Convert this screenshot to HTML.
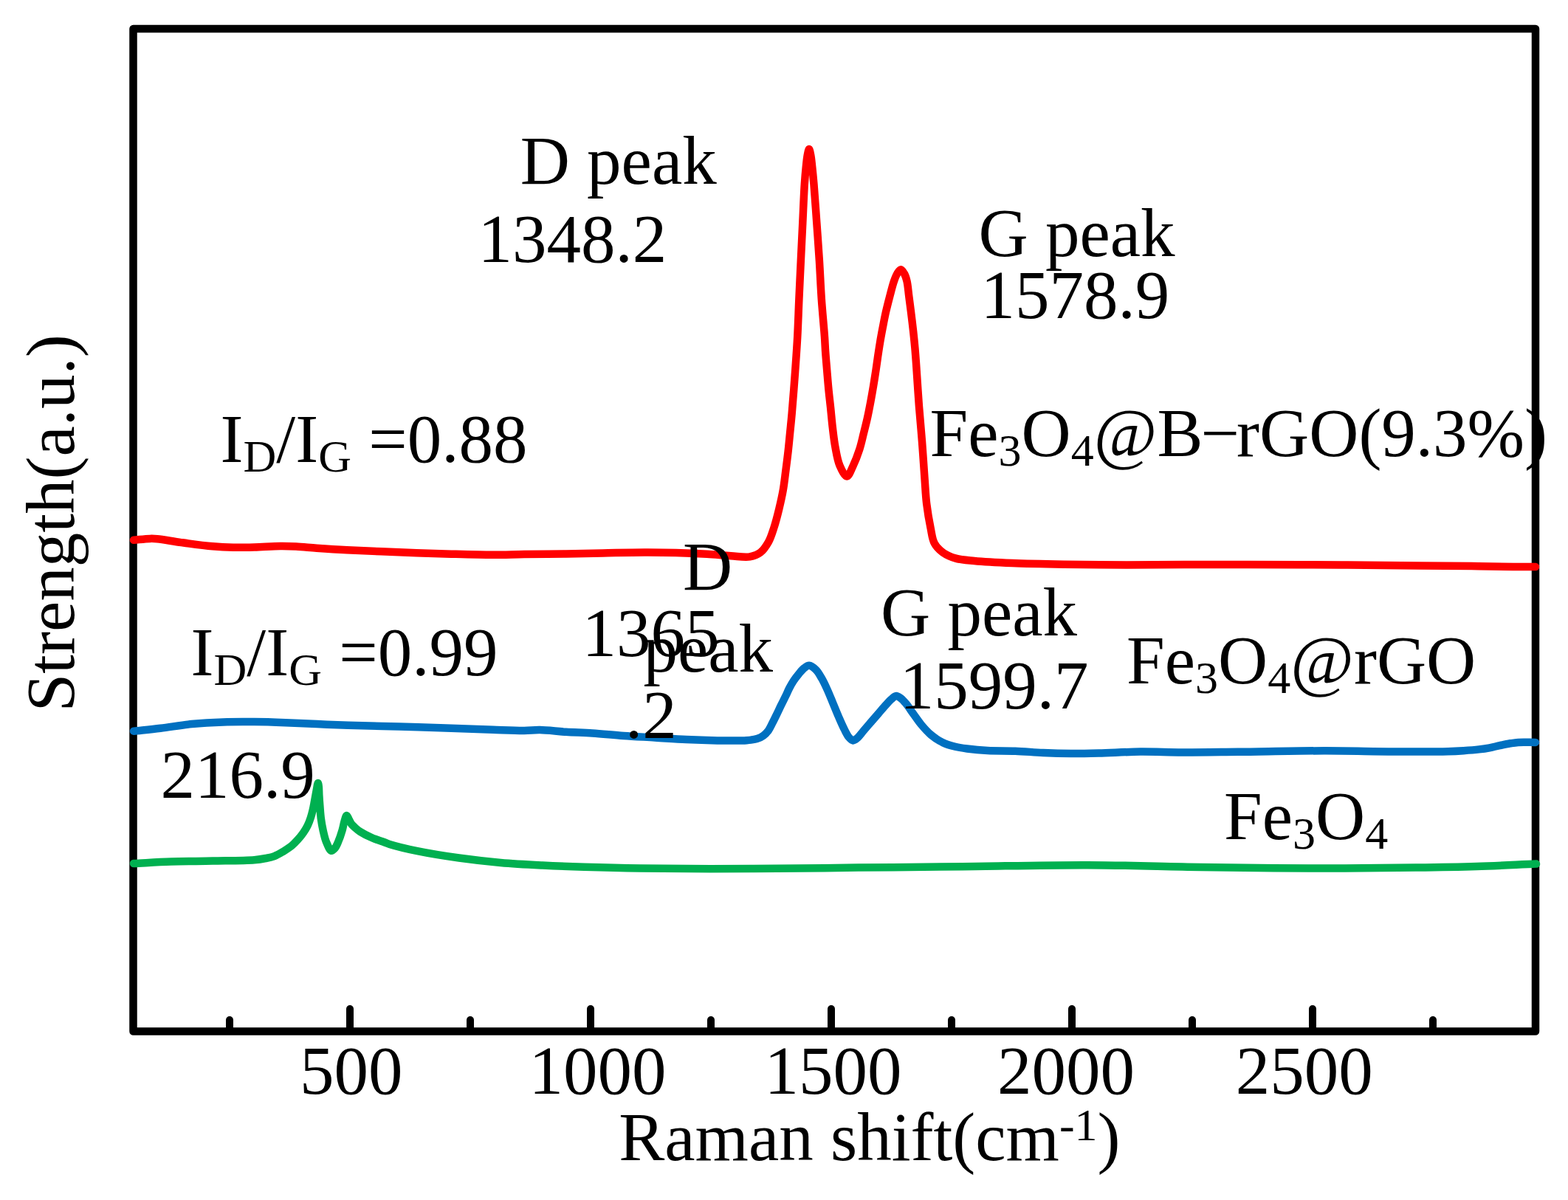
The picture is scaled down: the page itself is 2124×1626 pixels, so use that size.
<!DOCTYPE html>
<html><head><meta charset="utf-8"><title>Raman spectra</title>
<style>
html,body{margin:0;padding:0;background:#fff;}
body{width:2124px;height:1626px;overflow:hidden;}
svg{display:block;}
text{font-family:"Liberation Serif","Times New Roman",serif;fill:#000;}
</style></head>
<body>
<svg width="2124" height="1626" viewBox="0 0 2124 1626">
<rect width="2124" height="1626" fill="#fff"/>
<g stroke="#000" stroke-width="10" stroke-linecap="round">
<line x1="474" y1="1395" x2="474" y2="1367"/>
<line x1="800" y1="1395" x2="800" y2="1367"/>
<line x1="1126" y1="1395" x2="1126" y2="1367"/>
<line x1="1452" y1="1395" x2="1452" y2="1367"/>
<line x1="1778" y1="1395" x2="1778" y2="1367"/>
<line x1="311" y1="1395" x2="311" y2="1382"/>
<line x1="637" y1="1395" x2="637" y2="1382"/>
<line x1="963" y1="1395" x2="963" y2="1382"/>
<line x1="1289" y1="1395" x2="1289" y2="1382"/>
<line x1="1615" y1="1395" x2="1615" y2="1382"/>
<line x1="1941" y1="1395" x2="1941" y2="1382"/>
</g>
<rect x="180.5" y="39" width="1899.5" height="1358.5" fill="none" stroke="#000" stroke-width="10.5" stroke-linejoin="round"/>
<path d="M181.00,731.80 C188.33,731.17 197.09,730.07 203.00,729.90 C206.98,729.79 208.72,729.82 213.00,730.20 C220.76,730.90 234.01,733.52 245.60,735.10 C258.79,736.90 275.31,739.18 288.00,740.30 C298.28,741.20 306.62,741.60 316.00,741.80 C325.45,742.00 334.49,741.77 344.50,741.50 C355.64,741.20 369.52,740.10 379.80,740.00 C387.76,739.92 393.45,740.11 401.00,740.50 C409.69,740.94 418.78,741.97 429.00,742.70 C441.36,743.58 454.48,744.48 470.00,745.30 C490.35,746.38 517.06,747.40 540.60,748.30 C564.13,749.20 588.97,750.11 611.20,750.70 C631.08,751.23 650.23,751.80 667.70,751.80 C682.82,751.80 694.87,751.22 710.00,751.00 C727.49,750.74 748.33,750.68 766.60,750.40 C783.76,750.14 799.35,749.72 816.50,749.40 C834.75,749.06 855.52,748.45 873.00,748.40 C888.15,748.36 901.28,748.50 915.40,748.90 C929.51,749.30 944.55,750.02 957.70,750.80 C969.20,751.49 979.83,752.59 990.00,753.20 C999.08,753.75 1008.59,755.64 1015.80,754.40 C1021.36,753.44 1025.91,751.71 1030.00,748.60 C1034.42,745.24 1037.99,739.75 1041.00,734.40 C1044.23,728.65 1046.13,721.99 1048.40,715.00 C1050.98,707.07 1053.31,697.83 1055.40,689.20 C1057.47,680.63 1059.40,672.04 1060.90,663.40 C1062.39,654.80 1063.28,646.13 1064.40,637.50 C1065.52,628.89 1066.63,620.31 1067.60,611.70 C1068.57,603.08 1069.35,594.43 1070.20,585.80 C1071.05,577.19 1071.81,570.21 1072.70,560.00 C1074.00,545.10 1075.72,522.74 1077.00,505.00 C1078.20,488.38 1079.31,473.08 1080.20,456.70 C1081.12,439.77 1081.63,422.22 1082.40,405.00 C1083.17,387.79 1083.98,370.61 1084.80,353.40 C1085.62,336.17 1086.47,318.93 1087.30,301.70 C1088.13,284.47 1088.88,263.96 1089.80,250.00 C1090.43,240.48 1091.05,233.18 1091.80,226.00 C1092.41,220.12 1092.93,214.39 1093.80,210.00 C1094.43,206.85 1095.27,202.00 1096.00,202.00 C1096.73,202.00 1097.57,206.85 1098.20,210.00 C1099.07,214.39 1099.55,220.12 1100.20,226.00 C1100.99,233.19 1101.69,240.48 1102.50,250.00 C1103.68,263.96 1105.07,284.47 1106.30,301.70 C1107.53,318.93 1108.82,336.17 1109.90,353.40 C1110.98,370.60 1111.62,387.80 1112.80,405.00 C1113.98,422.23 1116.10,443.67 1117.00,456.70 C1117.55,464.62 1117.63,468.95 1118.10,475.80 C1118.65,483.78 1119.48,493.08 1120.20,501.70 C1120.92,510.31 1121.57,518.90 1122.40,527.50 C1123.23,536.13 1124.30,544.77 1125.20,553.40 C1126.10,562.01 1126.78,570.61 1127.80,579.20 C1128.82,587.81 1129.70,596.43 1131.30,605.00 C1132.92,613.67 1134.37,623.72 1137.50,630.90 C1140.04,636.72 1144.13,645.59 1147.20,645.50 C1150.23,645.41 1153.14,636.21 1155.80,630.70 C1158.88,624.31 1161.85,616.45 1164.20,609.20 C1166.51,602.08 1168.00,594.80 1169.80,587.60 C1171.60,580.43 1173.41,573.28 1175.00,566.10 C1176.58,558.95 1177.95,551.78 1179.30,544.60 C1180.65,537.42 1181.90,530.20 1183.10,523.00 C1184.30,515.83 1185.50,508.15 1186.50,501.50 C1187.37,495.75 1187.95,491.11 1188.80,485.40 C1189.76,478.88 1190.83,471.46 1192.00,464.50 C1193.17,457.53 1194.47,450.56 1195.80,443.60 C1197.13,436.63 1198.44,429.65 1200.00,422.70 C1201.57,415.72 1203.37,408.75 1205.20,401.80 C1207.04,394.82 1208.98,386.61 1211.00,380.90 C1212.46,376.78 1213.71,373.26 1215.50,370.50 C1216.92,368.32 1218.74,365.27 1220.30,365.30 C1221.84,365.32 1223.53,368.32 1224.80,370.50 C1226.41,373.26 1227.50,376.77 1228.50,380.90 C1229.88,386.60 1230.38,394.83 1231.30,401.80 C1232.22,408.77 1233.08,415.29 1234.00,422.70 C1235.04,431.10 1236.27,441.07 1237.20,449.60 C1238.04,457.32 1238.75,464.33 1239.40,471.70 C1240.05,479.06 1240.44,484.75 1241.10,493.80 C1242.14,508.20 1243.52,531.68 1244.90,549.80 C1246.20,566.92 1247.82,583.07 1249.10,599.70 C1250.38,616.30 1251.49,634.58 1252.60,649.50 C1253.51,661.69 1253.86,671.65 1255.20,682.70 C1256.55,693.82 1258.70,706.36 1260.70,716.00 C1262.26,723.52 1262.63,730.26 1265.70,735.90 C1268.59,741.21 1273.26,745.75 1278.10,749.20 C1282.95,752.66 1288.54,754.82 1294.80,756.60 C1302.14,758.68 1309.89,759.04 1319.70,760.00 C1333.76,761.38 1352.67,762.32 1371.20,763.10 C1392.90,764.01 1417.27,764.40 1441.90,764.80 C1468.86,765.24 1498.94,765.46 1526.60,765.50 C1553.16,765.54 1578.13,765.18 1604.70,765.10 C1632.39,765.01 1658.38,764.96 1689.50,765.00 C1727.60,765.05 1776.12,765.25 1816.60,765.50 C1853.64,765.73 1891.16,766.11 1923.00,766.40 C1948.94,766.64 1971.39,766.79 1993.60,767.10 C2013.45,767.37 2034.14,767.99 2050.00,768.10 C2061.56,768.18 2070.00,768.03 2080.00,768.00" fill="none" stroke="#FF0000" stroke-width="10.5" stroke-linecap="round" stroke-linejoin="round"/>
<path d="M181.00,990.70 C193.13,989.37 204.82,988.22 217.40,986.70 C230.98,985.06 245.57,982.48 259.70,981.10 C273.80,979.72 287.96,978.90 302.10,978.40 C316.23,977.90 330.37,977.97 344.50,978.10 C358.63,978.23 372.78,978.70 386.90,979.20 C401.01,979.70 415.09,980.50 429.20,981.10 C443.32,981.70 455.75,982.28 471.60,982.80 C491.81,983.47 517.47,983.95 540.60,984.60 C564.00,985.25 588.98,985.96 611.20,986.70 C631.08,987.37 650.21,988.23 667.70,988.80 C682.84,989.30 698.39,990.08 710.10,990.00 C718.38,989.94 723.34,988.97 731.30,989.10 C741.58,989.27 754.79,991.07 766.60,991.80 C778.49,992.54 789.98,992.69 802.40,993.50 C815.92,994.38 830.59,996.00 844.70,997.00 C858.82,998.00 872.97,998.65 887.10,999.50 C901.23,1000.35 915.36,1001.43 929.50,1002.10 C943.63,1002.77 960.73,1003.28 971.90,1003.50 C979.20,1003.64 983.73,1003.64 990.00,1003.60 C996.79,1003.55 1004.85,1003.73 1011.20,1003.20 C1016.42,1002.77 1021.37,1002.37 1025.40,1001.10 C1028.66,1000.07 1031.25,998.74 1033.80,996.90 C1036.44,995.00 1038.83,992.58 1040.90,989.80 C1043.16,986.76 1044.74,982.81 1046.60,979.20 C1048.51,975.51 1050.34,971.73 1052.20,967.90 C1054.11,963.97 1055.92,959.95 1057.90,955.90 C1059.95,951.69 1062.34,947.18 1064.30,943.10 C1066.07,939.41 1067.42,935.93 1069.20,932.50 C1070.96,929.10 1072.79,925.77 1074.90,922.60 C1077.02,919.41 1079.50,916.30 1081.90,913.40 C1084.20,910.62 1086.44,907.48 1089.00,905.50 C1091.22,903.78 1093.61,901.69 1096.10,901.80 C1099.03,901.92 1102.68,905.05 1105.40,907.70 C1108.45,910.67 1110.67,915.00 1113.10,919.20 C1115.81,923.88 1118.24,929.20 1120.70,934.60 C1123.35,940.42 1125.84,946.86 1128.40,953.00 C1130.97,959.16 1133.48,965.49 1136.10,971.50 C1138.62,977.28 1141.25,983.46 1143.80,988.40 C1145.88,992.43 1147.72,996.48 1150.00,999.10 C1151.71,1001.07 1153.62,1003.26 1155.50,1003.40 C1157.29,1003.53 1159.09,1001.86 1161.00,1000.30 C1163.82,997.99 1166.92,993.46 1170.00,989.90 C1173.25,986.14 1176.67,982.17 1180.00,978.30 C1183.33,974.43 1186.67,970.57 1190.00,966.70 C1193.33,962.83 1196.92,958.49 1200.00,955.10 C1202.50,952.35 1204.56,949.87 1207.00,947.80 C1209.24,945.90 1211.71,943.16 1214.00,943.00 C1216.04,942.86 1218.03,944.57 1220.00,946.00 C1222.42,947.75 1224.64,950.28 1227.10,953.20 C1230.34,957.04 1233.88,962.68 1237.30,967.40 C1240.72,972.12 1243.78,976.92 1247.60,981.50 C1251.63,986.33 1256.06,991.48 1261.00,995.60 C1265.93,999.71 1271.66,1003.51 1277.20,1006.20 C1282.34,1008.69 1287.58,1010.12 1293.00,1011.50 C1298.51,1012.90 1303.63,1013.64 1310.00,1014.50 C1318.09,1015.59 1327.75,1016.55 1337.70,1017.10 C1349.27,1017.73 1362.76,1017.22 1375.30,1017.70 C1387.86,1018.18 1400.43,1019.45 1413.00,1020.00 C1425.56,1020.55 1438.14,1020.92 1450.70,1021.00 C1463.24,1021.08 1474.50,1020.82 1488.30,1020.50 C1505.22,1020.10 1525.96,1018.77 1544.80,1018.60 C1563.63,1018.43 1581.12,1019.43 1601.30,1019.50 C1624.60,1019.58 1648.71,1019.11 1676.60,1018.80 C1711.45,1018.42 1757.18,1017.32 1794.20,1017.30 C1827.31,1017.28 1858.93,1018.27 1888.30,1018.40 C1914.15,1018.52 1944.18,1018.62 1961.20,1018.20 C1970.39,1017.97 1975.34,1017.67 1982.40,1017.20 C1989.47,1016.73 1997.26,1016.14 2003.60,1015.40 C2008.79,1014.79 2013.02,1014.18 2017.70,1013.30 C2022.42,1012.41 2027.09,1011.10 2031.80,1010.10 C2036.49,1009.10 2041.52,1008.02 2045.90,1007.30 C2049.67,1006.68 2052.26,1006.18 2056.50,1005.90 C2062.78,1005.49 2072.17,1005.90 2080.00,1005.90" fill="none" stroke="#0070C0" stroke-width="10.5" stroke-linecap="round" stroke-linejoin="round"/>
<path d="M181.00,1170.10 C197.83,1169.23 214.19,1168.08 231.50,1167.50 C249.80,1166.88 269.17,1166.98 288.00,1166.60 C306.83,1166.22 331.57,1166.27 344.50,1165.20 C351.30,1164.63 355.22,1163.93 360.00,1163.00 C364.20,1162.18 367.89,1161.56 371.70,1160.10 C375.70,1158.57 379.56,1156.20 383.40,1153.90 C387.36,1151.52 391.61,1148.88 395.10,1146.00 C398.36,1143.31 401.13,1140.29 403.80,1137.30 C406.35,1134.45 408.66,1131.60 410.80,1128.50 C412.97,1125.37 415.03,1122.02 416.70,1118.60 C418.35,1115.22 419.63,1111.64 420.80,1108.10 C421.96,1104.61 422.85,1101.14 423.70,1097.50 C424.59,1093.71 425.23,1089.86 426.00,1085.80 C426.83,1081.39 427.65,1076.33 428.50,1072.00 C429.26,1068.12 430.20,1061.00 430.80,1061.00 C431.21,1061.00 431.56,1064.00 431.80,1066.00 C432.16,1068.94 432.07,1072.99 432.30,1077.00 C432.58,1081.84 432.98,1087.67 433.40,1093.00 C433.82,1098.34 434.10,1103.68 434.80,1109.00 C435.50,1114.35 436.41,1119.69 437.60,1125.00 C438.80,1130.36 439.99,1136.19 442.00,1141.00 C443.82,1145.36 446.44,1152.28 448.80,1152.80 C450.33,1153.14 452.11,1151.07 453.50,1149.50 C455.30,1147.46 456.54,1144.34 458.00,1141.00 C459.94,1136.56 462.13,1129.98 463.60,1125.00 C464.86,1120.75 465.38,1116.56 466.50,1113.00 C467.43,1110.03 468.49,1105.09 469.60,1105.00 C470.51,1104.93 471.50,1108.22 472.50,1110.00 C473.63,1112.02 474.56,1114.57 476.00,1116.50 C477.41,1118.39 479.14,1119.85 481.00,1121.50 C483.09,1123.35 485.08,1125.12 488.00,1127.00 C492.15,1129.67 498.59,1132.94 504.00,1135.30 C509.26,1137.59 515.64,1139.40 520.00,1141.00 C523.04,1142.11 524.12,1142.79 527.70,1143.90 C535.47,1146.30 551.44,1150.25 565.30,1153.10 C582.16,1156.56 602.93,1159.86 621.80,1162.50 C640.60,1165.13 659.45,1167.23 678.30,1168.90 C697.11,1170.56 715.96,1171.52 734.80,1172.50 C753.63,1173.48 771.11,1174.15 791.30,1174.80 C814.60,1175.55 837.04,1176.20 866.60,1176.60 C908.92,1177.17 970.66,1177.29 1021.00,1177.10 C1069.20,1176.92 1115.36,1176.08 1162.50,1175.60 C1209.59,1175.12 1254.49,1174.73 1303.70,1174.20 C1357.62,1173.61 1418.17,1172.04 1473.20,1172.20 C1525.45,1172.35 1575.65,1174.16 1626.00,1174.90 C1675.22,1175.62 1723.35,1176.48 1772.00,1176.60 C1820.62,1176.72 1876.12,1176.15 1917.80,1175.60 C1949.10,1175.19 1972.71,1174.84 2000.00,1174.00 C2027.10,1173.17 2054.00,1171.73 2081.00,1170.60" fill="none" stroke="#00B050" stroke-width="10.5" stroke-linecap="round" stroke-linejoin="round"/>
<text x="406.1" y="1482.0" font-size="93">500</text>
<text x="716.4" y="1482.0" font-size="93">1000</text>
<text x="1035.4" y="1482.0" font-size="93">1500</text>
<text x="1351.1" y="1482.0" font-size="93">2000</text>
<text x="1673.7" y="1482.0" font-size="93">2500</text>
<text x="704.7" y="248.7" font-size="93">D peak</text>
<text x="647.4" y="354.7" font-size="93">1348.2</text>
<text x="1325.5" y="347.0" font-size="93">G peak</text>
<text x="1328.6" y="430.7" font-size="93">1578.9</text>
<text x="925.1" y="798.5" font-size="93">D</text>
<text x="788.5" y="889.3" font-size="93">1365</text>
<text x="871.4" y="910.0" font-size="93">peak</text>
<text x="847.1" y="1000.4" font-size="93">.2</text>
<text x="1193.1" y="861.3" font-size="93">G peak</text>
<text x="1218.8" y="960.2" font-size="93">1599.7</text>
<text x="217.5" y="1081.0" font-size="93">216.9</text>
<text x="298.6" y="625.9"><tspan font-size="93">I</tspan><tspan font-size="62" dy="13">D</tspan><tspan font-size="93" dy="-13">/</tspan><tspan font-size="93">I</tspan><tspan font-size="62" dy="13">G</tspan><tspan font-size="93" dy="-13"> =0.88</tspan></text>
<text x="258.6" y="914.6"><tspan font-size="93">I</tspan><tspan font-size="62" dy="13">D</tspan><tspan font-size="93" dy="-13">/</tspan><tspan font-size="93">I</tspan><tspan font-size="62" dy="13">G</tspan><tspan font-size="93" dy="-13"> =0.99</tspan></text>
<text x="1259.6" y="618.0"><tspan font-size="93">Fe</tspan><tspan font-size="62" dy="13">3</tspan><tspan font-size="93" dy="-13">O</tspan><tspan font-size="62" dy="13">4</tspan><tspan font-size="93" dy="-13">@B</tspan><tspan font-size="93" x="1626.4">−</tspan><tspan font-size="93" x="1675.1">rGO(9.3%)</tspan></text>
<text x="1526.1" y="925.9"><tspan font-size="93">Fe</tspan><tspan font-size="62" dy="13">3</tspan><tspan font-size="93" dy="-13">O</tspan><tspan font-size="62" dy="13">4</tspan><tspan font-size="93" dy="-13">@rGO</tspan></text>
<text x="1658.1" y="1136.7"><tspan font-size="93">Fe</tspan><tspan font-size="62" dy="13">3</tspan><tspan font-size="93" dy="-13">O</tspan><tspan font-size="62" dy="13">4</tspan></text>
<text x="838.3" y="1571.7"><tspan font-size="93">Raman shift(cm</tspan><tspan font-size="62" dy="-27">-1</tspan><tspan font-size="93" dy="27">)</tspan></text>
<text transform="translate(100.2 964.6) rotate(-90)" x="0" y="0" font-size="93">Strength(a.u.)</text>
</svg>
</body></html>
